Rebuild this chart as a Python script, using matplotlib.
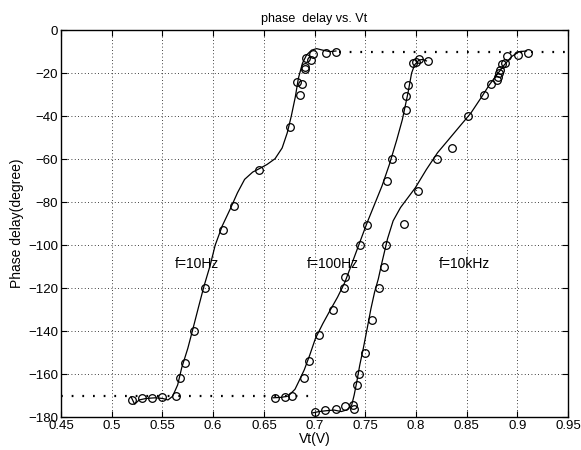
import matplotlib
matplotlib.use('Agg')
import matplotlib.pyplot as plt

# measured points (circles)
vt_10hz = [0.520, 0.530, 0.540, 0.550, 0.5635, 0.567, 0.572, 0.581, 0.592, 0.610,
           0.621, 0.645, 0.676, 0.683, 0.686, 0.688, 0.691, 0.691, 0.692, 0.696,
           0.698, 0.711, 0.721]
ph_10hz = [-172, -171, -171, -170.5, -170, -162, -155, -140, -120, -93,
           -82, -65, -45, -24, -30, -25, -17, -18, -13, -14,
           -11, -10.5, -10]

vt_100hz = [0.6606, 0.6704, 0.6777, 0.6898, 0.6945, 0.7044, 0.7179, 0.7285, 0.7303, 0.7445,
            0.7518, 0.7712, 0.7763, 0.7901, 0.7905, 0.7923, 0.7967, 0.8004, 0.8033, 0.8113]
ph_100hz = [-171, -170.8, -170, -162, -154, -142, -130, -120, -115, -100,
            -90.7, -70, -60, -37.3, -30.4, -25.3, -15.4, -14.8, -13.4, -14.3]

vt_10khz = [0.7004, 0.7106, 0.7208, 0.7299, 0.738, 0.739, 0.742, 0.7438, 0.7493, 0.7562,
            0.7631, 0.7682, 0.7708, 0.7883, 0.8022, 0.8204, 0.8354, 0.8515, 0.8668, 0.8734,
            0.8796, 0.8803, 0.8814, 0.8832, 0.885, 0.8876, 0.8901, 0.9004, 0.9102]
ph_10khz = [-177.4, -176.6, -176, -175, -174.5, -176, -165, -160, -150, -135,
            -120, -110, -100, -90, -75, -60, -55, -40, -30, -25,
            -23.4, -21.9, -20, -18.5, -15.9, -15.1, -11.9, -11.6, -10.8]

# fitted curves
fit_x_10hz = [0.519, 0.5226, 0.527, 0.534, 0.543, 0.550, 0.5555, 0.560, 0.565, 0.569,
              0.575, 0.580, 0.586, 0.591, 0.597, 0.602, 0.609, 0.617, 0.624, 0.631,
              0.639, 0.646, 0.653, 0.661, 0.668, 0.673, 0.677, 0.681, 0.684, 0.688,
              0.692, 0.697, 0.702, 0.708, 0.715, 0.721]
fit_y_10hz = [-170.5, -174, -172, -171.3, -171, -171.3, -172, -170.3, -165, -157,
              -148, -139, -128, -119, -109.5, -100, -91, -83, -75.6, -69.4,
              -66, -64.3, -62.5, -59.8, -54.8, -47.8, -40, -31, -22.4, -15.4,
              -11.6, -9.3, -8.6, -9.3, -10, -9.7]

fit_x_100hz = [0.659, 0.667, 0.674, 0.6807, 0.6843, 0.6898, 0.6953, 0.7008, 0.7081, 0.7153,
               0.7226, 0.7299, 0.7372, 0.7445, 0.7518, 0.7591, 0.7664, 0.7737, 0.7810, 0.7865,
               0.7920, 0.7956, 0.7985, 0.8029, 0.8066, 0.8102]
fit_y_100hz = [-171, -170.8, -170.2, -167, -163.5, -158, -151, -143.4, -136.5, -130.3,
               -124.2, -117.2, -108, -98.7, -89.5, -81, -72.5, -62.5, -51, -41.6,
               -29.3, -20, -16.2, -13.9, -13.6, -14.3]

fit_x_10khz = [0.6982, 0.7044, 0.7117, 0.719, 0.7263, 0.7318, 0.7365, 0.739, 0.7416, 0.7445,
               0.748, 0.7518, 0.7555, 0.7591, 0.7628, 0.7664, 0.7719, 0.7774, 0.7847, 0.792,
               0.7993, 0.8102, 0.8212, 0.8321, 0.8431, 0.854, 0.865, 0.8723, 0.8796, 0.8869,
               0.8942, 0.9015, 0.9088]
fit_y_10khz = [-178, -177.4, -177, -176.7, -177.4, -176.6, -174.5, -169.7, -163.5, -155.8,
               -148, -138.8, -129.6, -121.9, -115.7, -108, -97, -88.7, -82.5, -77.9,
               -73.3, -64.8, -57, -50.9, -44.7, -38.6, -30.8, -25.4, -20.8, -16.2,
               -12.3, -10, -9.7]

# asymptote levels
low_level = -170
low_span = [0.45, 0.70]
high_level = -10
high_span = [0.724, 0.95]

labels = ['f=10Hz', 'f=100Hz', 'f=10kHz']
label_x = [0.562, 0.6927, 0.8223]
label_y = -108.6

plt.rcParams['font.family'] = ['Liberation Sans', 'DejaVu Sans']

fig = plt.figure(figsize=(5.81, 4.5), dpi=100)
ax = fig.add_axes([0.105, 0.073, 0.873, 0.86])

for fx, fy, vx, vy in [(fit_x_10hz, fit_y_10hz, vt_10hz, ph_10hz),
                       (fit_x_100hz, fit_y_100hz, vt_100hz, ph_100hz),
                       (fit_x_10khz, fit_y_10khz, vt_10khz, ph_10khz)]:
    ax.plot(fx, fy, color='black', linewidth=0.9)
    ax.plot(vx, vy, linestyle='none', marker='o', markersize=5.5,
            markerfacecolor='none', markeredgecolor='black', markeredgewidth=0.9)

ax.plot(low_span, [low_level, low_level], color='black', linewidth=1.6,
        linestyle=(0, (0.8, 4)))
ax.plot(high_span, [high_level, high_level], color='black', linewidth=1.6,
        linestyle=(0, (0.8, 4)))

for txt, lx in zip(labels, label_x):
    ax.text(lx, label_y, txt, fontsize=10, va='center', ha='left')

ax.set_xlim(0.45, 0.95)
ax.set_ylim(-180, 0)
ax.set_xticks([0.45, 0.5, 0.55, 0.6, 0.65, 0.7, 0.75, 0.8, 0.85, 0.9, 0.95])
ax.set_xticklabels(['0.45', '0.5', '0.55', '0.6', '0.65', '0.7', '0.75', '0.8',
                    '0.85', '0.9', '0.95'])
ax.set_yticks(range(-180, 1, 20))
ax.grid(True, linestyle=(0, (1, 3)), color='black', linewidth=0.6)
ax.tick_params(direction='in', top=True, right=True, labelsize=9.5, pad=2, length=4)
for sp in ax.spines.values():
    sp.set_linewidth(1.0)

ax.set_xlabel('Vt(V)', fontsize=10, labelpad=0)
ax.set_ylabel('Phase delay(degree)', fontsize=10, labelpad=3)
ax.set_title('phase  delay vs. Vt', fontsize=9, pad=6)

fig.savefig('out.png', dpi=100)
